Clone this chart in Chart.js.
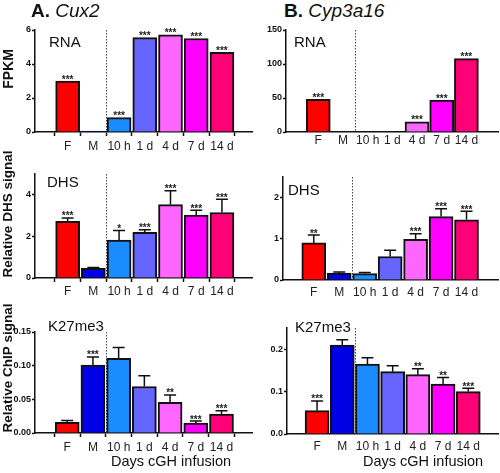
<!DOCTYPE html>
<html>
<head>
<meta charset="utf-8">
<script src="https://cdn.jsdelivr.net/npm/chart.js@4.4.1/dist/chart.umd.min.js"></script>
<style>
  body { margin: 0; background: #fff; }
  #wrap { position: relative; width: 500px; height: 473px; overflow: hidden; font-family: 'Liberation Sans', Arial, sans-serif; color: #111; }
  canvas { position: absolute; }
  .t { position: absolute; white-space: nowrap; line-height: 1; }
  .rot { position: absolute; white-space: nowrap; line-height: 1; font-weight: bold; transform: translate(-50%, -50%) rotate(-90deg); }
</style>
</head>
<body>
<div id="wrap">
  <div class="t" style="left:31px; top:1px; font-size:19px;"><b>A.</b> <i>Cux2</i></div>
  <div class="t" style="left:284px; top:1px; font-size:19px;"><b>B.</b> <i>Cyp3a16</i></div>
  <div class="t" style="left:49px; top:34px; font-size:15px;">RNA</div>
  <div class="t" style="left:294px; top:34px; font-size:15px;">RNA</div>
  <div class="t" style="left:47px; top:174px; font-size:15px;">DHS</div>
  <div class="t" style="left:288px; top:182px; font-size:15px;">DHS</div>
  <div class="t" style="left:48px; top:318px; font-size:15px;">K27me3</div>
  <div class="t" style="left:295px; top:319px; font-size:15px;">K27me3</div>
  <div class="t" style="left:111px; top:454px; font-size:14.5px;">Days cGH infusion</div>
  <div class="t" style="left:363px; top:454px; font-size:14.5px;">Days cGH infusion</div>
  <div class="rot" style="left:7.5px; top:69px; font-size:14px;">FPKM</div>
  <div class="rot" style="left:7.5px; top:214px; font-size:13.5px;">Relative DHS signal</div>
  <div class="rot" style="left:7.5px; top:368px; font-size:13.5px;">Relative ChIP signal</div>
</div>
<script>
// categories
var timepoints = ['F', 'M', '10 h', '1 d', '4 d', '7 d', '14 d'];

// RNA (FPKM)
var cux2Rna = [3.0, 0.05, 0.85, 5.55, 5.72, 5.5, 4.68];
var cux2RnaStars = ['***', '', '***', '***', '***', '***', '***'];
var cyp3a16Rna = [48, 0, 0, 0, 15, 47, 108];
var cyp3a16RnaStars = ['***', '', '', '', '***', '***', '***'];

// DHS signal
var cux2Dhs = [2.72, 0.46, 1.82, 2.2, 3.53, 3.02, 3.15];
var cux2DhsErr = [0.17, 0.05, 0.46, 0.12, 0.66, 0.24, 0.64];
var cux2DhsStars = ['***', '', '*', '***', '***', '***', '***'];
var cyp3a16Dhs = [0.9, 0.17, 0.155, 0.57, 0.99, 1.54, 1.46];
var cyp3a16DhsErr = [0.19, 0.025, 0.025, 0.15, 0.13, 0.19, 0.21];
var cyp3a16DhsStars = ['**', '', '', '', '***', '***', '***'];

// K27me3 ChIP signal
var cux2K27 = [0.016, 0.101, 0.111, 0.069, 0.0455, 0.0148, 0.028];
var cux2K27Err = [0.0025, 0.012, 0.016, 0.016, 0.011, 0.003, 0.005];
var cux2K27Stars = ['', '***', '', '', '**', '***', '***'];
var cyp3a16K27 = [0.055, 0.21, 0.165, 0.147, 0.14, 0.118, 0.1];
var cyp3a16K27Err = [0.023, 0.012, 0.015, 0.014, 0.014, 0.015, 0.008];
var cyp3a16K27Stars = ['***', '', '', '', '**', '**', '***'];

// y tick labels
var cux2RnaTicks = [0, 2, 4, 6];
var cyp3a16RnaTicks = [0, 50, 100, 150];
var cux2DhsTicks = [0, 2, 4];
var cyp3a16DhsTicks = [0, 1, 2];
var cux2K27Ticks = [0, 0.05, 0.10, 0.15];
var cyp3a16K27Ticks = [0, 0.1, 0.2];

var barColors = ['#ff0000', '#0000e6', '#1a8cff', '#6666ff', '#ff66ff', '#ff00ff', '#ff0077'];

var Y_W = 30, X_H = 24, PAD_TOP = 8, PAD_RIGHT = 3;

var decor = {
  id: 'decor',
  beforeDatasetsDraw: function(chart, args, opts) {
    var a = chart.chartArea, ctx = chart.ctx;
    var px = Math.round(chart.scales.x.getPixelForValue(1.5)) + 0.5;
    ctx.save();
    ctx.strokeStyle = '#444';
    ctx.lineWidth = 1;
    ctx.setLineDash([1.5, 1.5]);
    ctx.beginPath();
    ctx.moveTo(px, a.top);
    ctx.lineTo(px, a.bottom);
    ctx.stroke();
    ctx.restore();
  },
  afterDatasetsDraw: function(chart, args, opts) {
    var meta = chart.getDatasetMeta(0), y = chart.scales.y, ctx = chart.ctx;
    var vals = chart.data.datasets[0].data;
    ctx.save();
    ctx.strokeStyle = '#111';
    ctx.lineWidth = 1.5;
    ctx.fillStyle = '#222';
    ctx.font = 'bold 10px "Liberation Sans"';
    ctx.textAlign = 'center';
    ctx.textBaseline = 'alphabetic';
    meta.data.forEach(function(bar, i) {
      var top = bar.y;
      var e = opts.errors ? opts.errors[i] : 0;
      if (e) {
        var ty = y.getPixelForValue(vals[i].y + e);
        ctx.beginPath();
        ctx.moveTo(bar.x, top);
        ctx.lineTo(bar.x, ty);
        ctx.moveTo(bar.x - 6, ty);
        ctx.lineTo(bar.x + 6, ty);
        ctx.stroke();
        top = ty;
      }
      if (opts.stars[i]) ctx.fillText(opts.stars[i], bar.x, top + 1.5);
    });
    ctx.restore();
  }
};

var panels = [
  { values: cux2Rna, errors: null, stars: cux2RnaStars, yMax: 6, yTicks: cux2RnaTicks, dec: 0,
    axisX: 35, firstX: 55, step: 30, right: 252, top: 30, bottom: 132, marks: true, gap: 3.5 },
  { values: cyp3a16Rna, errors: null, stars: cyp3a16RnaStars, yMax: 150, yTicks: cyp3a16RnaTicks, dec: 0,
    axisX: 286, firstX: 306, step: 28.8, right: 498, top: 30, bottom: 132, marks: false, gap: 1 },
  { values: cux2Dhs, errors: cux2DhsErr, stars: cux2DhsStars, yMax: 5, yTicks: cux2DhsTicks, dec: 0,
    axisX: 35, firstX: 55, step: 30, right: 252, top: 174, bottom: 278, marks: true, gap: 2 },
  { values: cyp3a16Dhs, errors: cyp3a16DhsErr, stars: cyp3a16DhsStars, yMax: 2.5, yTicks: cyp3a16DhsTicks, dec: 0,
    axisX: 283, firstX: 301, step: 29.7, right: 498, top: 177, bottom: 280, marks: false, gap: 5 },
  { values: cux2K27, errors: cux2K27Err, stars: cux2K27Stars, yMax: 0.15, yTicks: cux2K27Ticks, dec: 2,
    axisX: 35, firstX: 54.5, step: 30, right: 252, top: 332, bottom: 433, marks: true, gap: 3.5 },
  { values: cyp3a16K27, errors: cyp3a16K27Err, stars: cyp3a16K27Stars, yMax: 0.25, yTicks: cyp3a16K27Ticks, dec: 1,
    axisX: 287, firstX: 304.5, step: 29.4, right: 498, top: 328, bottom: 434, marks: false, gap: 5 }
];

Chart.defaults.font.family = "'Liberation Sans', Arial, sans-serif";

var wrap = document.getElementById('wrap');
panels.forEach(function(p) {
  var cv = document.createElement('canvas');
  var left = p.axisX - Y_W, top = p.top - PAD_TOP;
  var w = p.right + PAD_RIGHT - left, h = p.bottom + X_H - top;
  cv.width = w; cv.height = h;
  cv.style.left = left + 'px'; cv.style.top = top + 'px';
  cv.style.width = w + 'px'; cv.style.height = h + 'px';
  wrap.insertBefore(cv, wrap.firstChild);

  new Chart(cv, {
    type: 'bar',
    data: {
      datasets: [{
        data: p.values.map(function(v, i) { return { x: i, y: v }; }),
        backgroundColor: barColors,
        borderColor: '#111',
        borderWidth: 2,
        barThickness: 24
      }]
    },
    options: {
      responsive: false,
      animation: false,
      layout: { padding: { top: PAD_TOP, right: PAD_RIGHT, left: 0, bottom: 0 } },
      plugins: {
        legend: { display: false },
        tooltip: { enabled: false },
        decor: { errors: p.errors, stars: p.stars }
      },
      scales: {
        x: {
          type: 'linear',
          min: (p.axisX - p.firstX) / p.step,
          max: (p.right - p.firstX) / p.step,
          afterBuildTicks: function(s) { s.ticks = timepoints.map(function(t, i) { return { value: i }; }); },
          afterFit: function(s) { s.height = X_H; },
          ticks: {
            callback: function(v) { return timepoints[v]; },
            font: { size: 12 }, color: '#222', padding: p.gap, maxRotation: 0, autoSkip: false
          },
          grid: { drawOnChartArea: false, drawTicks: p.marks, tickLength: 4, tickColor: '#111', tickWidth: 1.5 },
          border: { color: '#111', width: 1.5 }
        },
        y: {
          min: 0,
          max: p.yMax,
          afterBuildTicks: function(s) { s.ticks = p.yTicks.map(function(v) { return { value: v }; }); },
          afterFit: function(s) { s.width = Y_W; },
          ticks: {
            callback: function(v) { return v.toFixed(p.dec); },
            font: { size: 9, weight: 'bold' }, color: '#111', padding: 1
          },
          grid: { drawOnChartArea: false, tickLength: 3, tickColor: '#111', tickWidth: 1.5 },
          border: { color: '#111', width: 1.5 }
        }
      }
    },
    plugins: [decor]
  });
});
</script>
</body>
</html>
